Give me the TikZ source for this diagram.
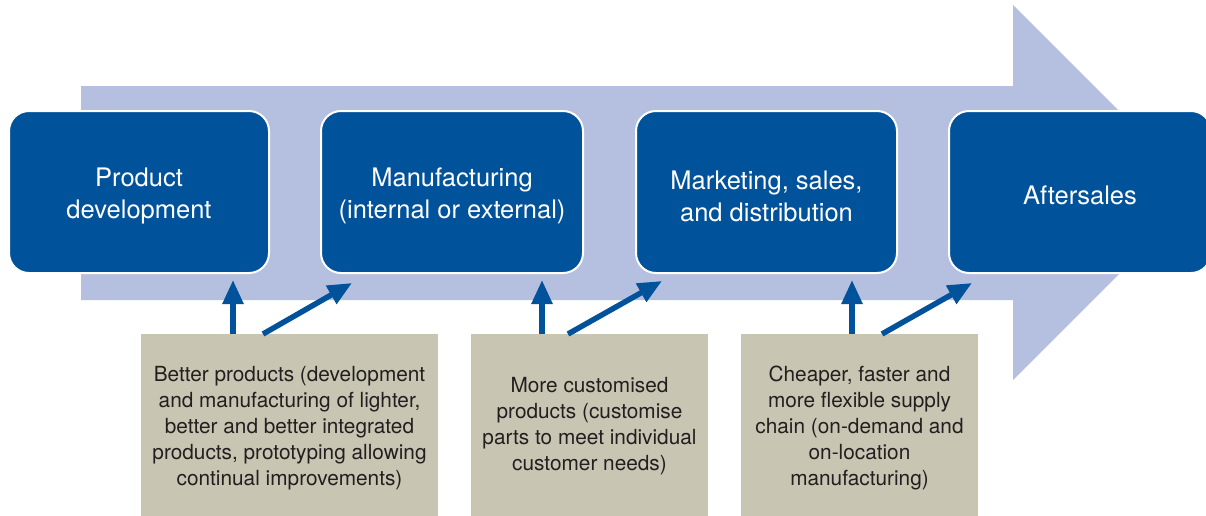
\documentclass[tikz,border=0pt]{standalone}
\usepackage{fontspec}
\setmainfont{TeX Gyre Heros}
\usetikzlibrary{arrows.meta}
\definecolor{stepblue}{RGB}{0,82,155}
\definecolor{flowlight}{RGB}{181,191,223}
\definecolor{notegray}{RGB}{200,197,178}
\definecolor{notetext}{RGB}{35,31,32}
\tikzset{
  stagebox/.style={fill=stepblue, draw=white, line width=2pt, rounded corners=20pt,
    minimum height=162pt, inner sep=0pt},
  stagetext/.style={text=white, align=center, font=\fontsize{25.5}{32}\selectfont, inner sep=0pt},
  notebox/.style={fill=notegray, draw=none, inner sep=0pt, anchor=north west, minimum height=182pt},
  notetext/.style={text=notetext, align=center, font=\fontsize{20.8}{26}\selectfont, inner sep=0pt},
  arr/.style={draw=stepblue, line width=5.5pt, -{Triangle[width=20pt,length=24pt]}},
}
\begin{document}
\begin{tikzpicture}[x=1pt,y=-1pt]
\useasboundingbox (0,0) rectangle (1206,515);
% big background arrow
\fill[flowlight] (81,86) -- (1013,86) -- (1013,5) -- (1200.5,192.5) -- (1013,380) -- (1013,300) -- (81,300) -- cycle;
% stage boxes
\node[stagebox, minimum width=260pt] (pd) at (139,192) {};
\node[stagebox, minimum width=262pt] (mf) at (452,192) {};
\node[stagebox, minimum width=261pt] (ms) at (766.5,192) {};
\node[stagebox, minimum width=262pt] (as) at (1080,192) {};
\node[stagetext] (pdt) at (139,196) {Product\\development};
\node[stagetext] (mft) at (452,196) {Manufacturing\\(internal or external)};
\node[stagetext] (mst) at (766.5,196) {Marketing, sales,\\and distribution};
\node[stagetext] (ast) at (1080,195) {Aftersales};
% note boxes
\node[notebox, minimum width=297pt] (ga) at (141,334) {};
\node[notetext] (gat) at (289.5,428) {Better products (development\\and manufacturing of lighter,\\better and better integrated\\products, prototyping allowing\\continual improvements)};
\node[notebox, minimum width=237pt] (gb) at (471,334) {};
\node[notetext] (gbt) at (589.5,426) {More customised\\products (customise\\parts to meet individual\\customer needs)};
\node[notebox, minimum width=237pt] (gc) at (741,334) {};
\node[notetext] (gct) at (859.5,428) {Cheaper, faster and\\more flexible supply\\chain (on-demand and\\on-location\\manufacturing)};
% arrow anchors
\coordinate (a1) at ([xshift=92pt]ga.north west);
\coordinate (a2) at ([xshift=122pt]ga.north west);
\coordinate (b1) at ([xshift=71pt]gb.north west);
\coordinate (b2) at ([xshift=97pt]gb.north west);
\coordinate (c1) at ([xshift=111pt]gc.north west);
\coordinate (c2) at ([xshift=141pt]gc.north west);
\coordinate (t2) at (352,283);
\coordinate (t3) at (662,281);
\coordinate (t4) at (972,283);
% arrows
\draw[arr, shorten >=6pt] (a1) -- (a1 |- pd.south);
\draw[arr] (a2) -- (t2);
\draw[arr, shorten >=6pt] (b1) -- (b1 |- mf.south);
\draw[arr] (b2) -- (t3);
\draw[arr, shorten >=6pt] (c1) -- (c1 |- ms.south);
\draw[arr] (c2) -- (t4);
\end{tikzpicture}
\end{document}
